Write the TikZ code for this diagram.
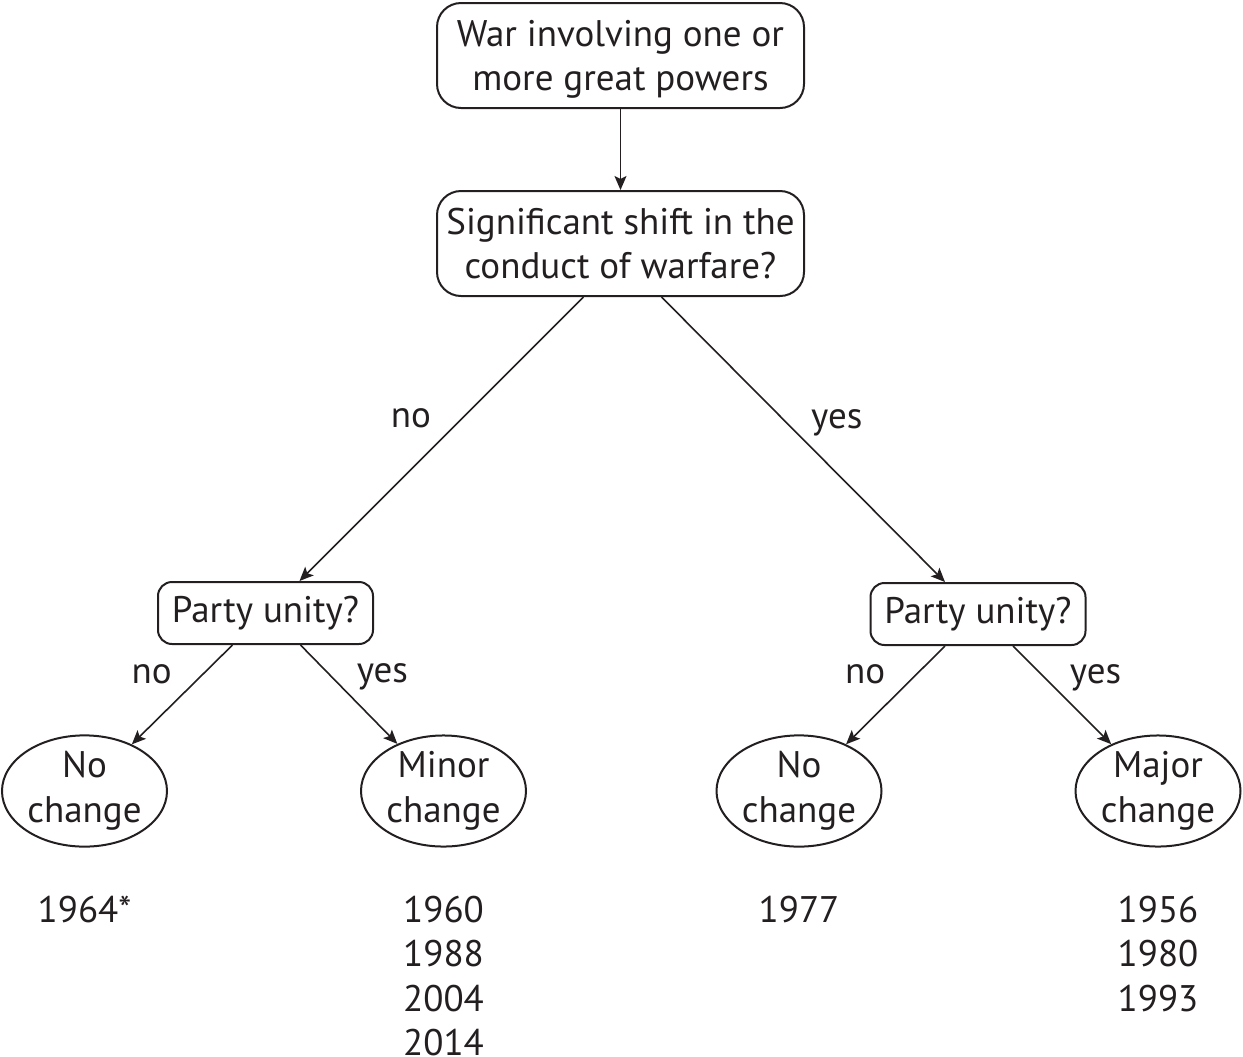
\documentclass[tikz,border=0pt]{standalone}
\usepackage{fontspec}
\setmainfont{PT Sans}
\usetikzlibrary{arrows.meta, positioning, shapes.geometric}
\definecolor{inkcolor}{HTML}{231F20}

\begin{document}
\begin{tikzpicture}[
    x=0.5pt, y=-0.5pt,
    box/.style={rectangle, draw=inkcolor, line width=1pt, rounded corners=#1, align=center, inner sep=0pt, text=inkcolor},
    bigbox/.style={box=12pt, minimum width=183.5pt, minimum height=52.5pt, text depth=0pt},
    smallbox/.style={box=7pt, minimum width=107.5pt, minimum height=31pt},
    leaf/.style={ellipse, draw=inkcolor, line width=1pt, minimum width=82.5pt, minimum height=53pt, inner sep=0pt, align=center, text=inkcolor},
    years/.style={align=center, inner sep=0pt, anchor=north, text=inkcolor},
    arr/.style={-{Stealth[length=7pt, width=6pt, inset=1.5pt]}, line width=0.8pt, draw=inkcolor},
    lblL/.style={midway, anchor=base, xshift=-15.25pt, yshift=5.75pt, inner sep=0pt, text=inkcolor},
    lblR/.style={midway, anchor=base, xshift=16.75pt, yshift=5.75pt, inner sep=0pt, text=inkcolor},
    font=\fontsize{18.5}{22.25}\selectfont,
  ]
  \useasboundingbox (0,0) rectangle (1243,1056);

  \node[bigbox] (war) at (620.5,55.5) {War involving one or\\more great powers};
  \node[bigbox, below=40.5pt of war] (shift) {Significant shift in the\\conduct of warfare?};
  \node[smallbox] (partyL) at (265.5,613) {Party unity?};
  \node[smallbox] (partyR) at (978,614) {Party unity?};

  % outcomes
  \node[leaf] (noL) at (84.5,791) {No\\change};
  \node[leaf] (minor) at (443.5,791) {Minor\\change};
  \node[leaf] (noR) at (799,791) {No\\change};
  \node[leaf] (major) at (1158,791) {Major\\change};

  \draw[arr] (war) -- (shift);
  \draw[arr] ([xshift=-18.5pt]shift.south) -- node[lblL] {no} ([xshift=17pt]partyL.north);
  \draw[arr] ([xshift=20.5pt]shift.south) -- node[lblR] {yes} ([xshift=-16.5pt]partyR.north);
  \draw[arr] ([xshift=-16.5pt]partyL.south) -- node[lblL] {no} (noL);
  \draw[arr] ([xshift=17.5pt]partyL.south) -- node[lblR] {yes} (minor);
  \draw[arr] ([xshift=-16.5pt]partyR.south) -- node[lblL] {no} (noR);
  \draw[arr] ([xshift=17.5pt]partyR.south) -- node[lblR] {yes} (major);

  % cases
  \node[years, below=24pt of noL] (yrNoL) {1964*};
  \node[years, below=24pt of minor] (yrMinor) {1960\\1988\\2004\\2014};
  \node[years, below=24pt of noR] (yrNoR) {1977};
  \node[years, below=24pt of major] (yrMajor) {1956\\1980\\1993};
\end{tikzpicture}
\end{document}
